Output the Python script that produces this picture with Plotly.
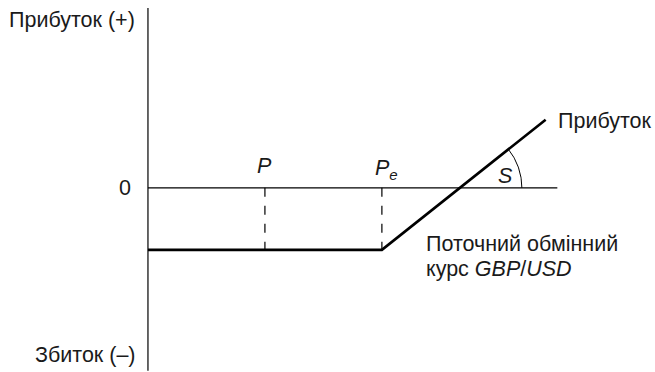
import numpy as np
import plotly.graph_objects as go

# ---- data (conceptual payoff diagram) ----
payoff_x = [0, 4, 6.8]          # exchange rate points
payoff_y = [-1, -1, 1.1]        # profit/loss
strike_p = 2                    # P
strike_pe = 4                   # Pe
loss_level = -1
axis_x_end = 7
axis_y_top = 2.9
axis_y_bottom = -2.95

W, H = 655, 372
X_RANGE = [-2.53, 8.67]
Y_RANGE = [-2.97, 3.03]
px_x = W / (X_RANGE[1] - X_RANGE[0])
px_y = H / (Y_RANGE[1] - Y_RANGE[0])

fig = go.Figure()

# payoff line
fig.add_trace(go.Scatter(x=payoff_x, y=payoff_y, mode="lines",
                         line=dict(color="black", width=2.6), hoverinfo="skip"))

# angle arc S
slope = (payoff_y[2] - payoff_y[1]) / (payoff_x[2] - payoff_x[1])
x0 = payoff_x[1] - payoff_y[1] / slope
ang = np.arctan((slope * px_y) / px_x)
t = np.linspace(0, ang, 40)
r_px = 62
fig.add_trace(go.Scatter(x=x0 + r_px * np.cos(t) / px_x, y=r_px * np.sin(t) / px_y,
                         mode="lines", line=dict(color="black", width=1), hoverinfo="skip"))

shapes = [
    dict(type="line", x0=0, x1=0, y0=axis_y_bottom, y1=axis_y_top, line=dict(color="black", width=1.2)),
    dict(type="line", x0=0, x1=axis_x_end, y0=0, y1=0, line=dict(color="black", width=1.2)),
    dict(type="line", x0=strike_p, x1=strike_p, y0=0, y1=loss_level, line=dict(color="black", width=1.2, dash="dash")),
    dict(type="line", x0=strike_pe, x1=strike_pe, y0=0, y1=loss_level, line=dict(color="black", width=1.2, dash="dash")),
]

F = "Liberation Sans, Arial, sans-serif"
fs = 21.5
ann = [
    dict(x=-0.19, y=2.71, text="Прибуток (+)", xanchor="right"),
    dict(x=-0.26, y=0, text="0", xanchor="right"),
    dict(x=-0.17, y=-2.70, text="Збиток (–)", xanchor="right"),
    dict(x=strike_p, y=0.35, text="<i>P</i>", xanchor="center"),
    dict(x=strike_pe + 0.08, y=0.30, text="<i>P<sub>e</sub></i>", xanchor="center"),
    dict(x=6.12, y=0.19, text="<i>S</i>", xanchor="center"),
    dict(x=6.98, y=1.08, text="Прибуток", xanchor="left"),
    dict(x=4.72, y=-0.905, text="Поточний обмінний", xanchor="left"),
    dict(x=4.72, y=-1.31, text="курс <i>GBP</i>/<i>USD</i>", xanchor="left"),
]
annotations = [dict(a, yanchor="middle", showarrow=False,
                    font=dict(family=F, size=fs, color="#1a1a1a")) for a in ann]

fig.update_layout(
    width=W, height=H, margin=dict(l=0, r=0, t=0, b=0),
    paper_bgcolor="white", plot_bgcolor="white", showlegend=False,
    xaxis=dict(range=X_RANGE, visible=False, fixedrange=True),
    yaxis=dict(range=Y_RANGE, visible=False, fixedrange=True),
    shapes=shapes, annotations=annotations,
)
fig.write_html("out.html", config={"displayModeBar": False},
               post_script="document.body.style.margin='0';document.body.style.overflow='hidden';")
